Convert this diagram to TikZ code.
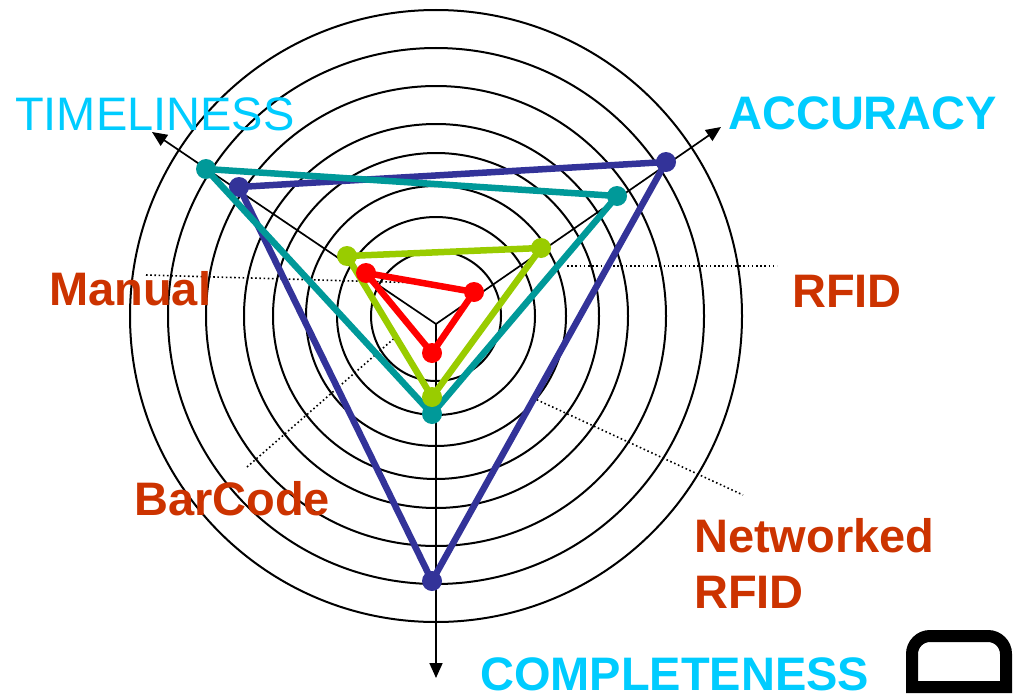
\documentclass[tikz,border=0pt]{standalone}
\usepackage{fontspec}
\setmainfont{Liberation Sans}
\usetikzlibrary{arrows.meta}
\definecolor{axiscyan}{HTML}{00CCFF}
\definecolor{techred}{HTML}{CC3300}
\definecolor{netblue}{HTML}{333399}
\definecolor{rfidteal}{HTML}{009999}
\definecolor{barcodegreen}{HTML}{99CC00}
\definecolor{manualred}{HTML}{FF0000}
\tikzset{
  ring/.style={draw=black, line width=2pt},
  axisline/.style={draw=black, line width=1.7pt, -{Triangle[length=15pt,width=13pt]}},
  leader/.style={draw=black, line width=1.6pt, dash pattern=on 1.6pt off 2.6pt},
  series/.style={line width=6.5pt, line join=round, line cap=round},
  dot/.style={circle, fill=#1, inner sep=0pt, minimum size=20pt},
  axislabel/.style={text=axiscyan, anchor=base west, inner sep=0pt, font=\fontsize{47}{50}\selectfont},
  techlabel/.style={text=techred, anchor=base west, inner sep=0pt, align=left, font=\fontsize{47}{56}\selectfont\bfseries},
}
\begin{document}
\begin{tikzpicture}[x=1pt, y=-1pt]
\useasboundingbox (0,0) rectangle (1014,693);
\fill[white] (0,0) rectangle (1014,693);

% concentric rings
\coordinate (C) at (436,316);
\foreach \r in {65,99,130,163,192,230,268,306}
  \draw[ring] (C) circle[radius=\r];

% axes
\coordinate (J) at (436,324);
\coordinate (tipT) at (152,132);
\coordinate (tipA) at (721,127);
\coordinate (tipC) at (436,678);
\draw[axisline] (J) -- (tipT);
\draw[axisline] (J) -- (tipA);
\draw[axisline] (J) -- (tipC);

% leader lines for the technology labels
\coordinate (mA) at (146,275);  \coordinate (mB) at (424,283);
\coordinate (rA) at (567,266);  \coordinate (rB) at (777,266);
\coordinate (nA) at (533,398);  \coordinate (nB) at (743,495);
\coordinate (bA) at (247,467);  \coordinate (bB) at (398,335);
\draw[leader] (mA) -- (mB);
\draw[leader] (rA) -- (rB);
\draw[leader] (nA) -- (nB);
\draw[leader] (bA) -- (bB);

% data points: timeliness / accuracy / completeness
\coordinate (nT) at (239,187); \coordinate (nR) at (666,162); \coordinate (nC) at (432,581);
\coordinate (fT) at (206,169); \coordinate (fR) at (617,196); \coordinate (fC) at (432,414);
\coordinate (gT) at (347,256); \coordinate (gR) at (541,248); \coordinate (gC) at (432,397);
\coordinate (mT) at (366,273); \coordinate (mR) at (474,292); \coordinate (mC) at (432,353);

% networked RFID
\draw[series, netblue] (nT) -- (nR) -- (nC) -- cycle;
\foreach \p in {nT,nR,nC} \node[dot=netblue] (d\p) at (\p) {};
% RFID
\draw[series, rfidteal] (fT) -- (fR) -- (fC) -- cycle;
\foreach \p in {fT,fR,fC} \node[dot=rfidteal] (d\p) at (\p) {};
% bar code
\draw[series, barcodegreen] (gT) -- (gR) -- (gC) -- cycle;
\foreach \p in {gT,gR,gC} \node[dot=barcodegreen] (d\p) at (\p) {};
% manual
\draw[series, manualred] (mT) -- (mR) -- (mC) -- cycle;
\foreach \p in {mT,mR,mC} \node[dot=manualred] (d\p) at (\p) {};

% axis labels
\node[axislabel] (labT) at (15,130) {TIMELINESS};
\node[axislabel, font=\fontsize{47}{50}\selectfont\bfseries] (labA) at (728,129) {ACCURACY};
\node[axislabel, font=\fontsize{47}{50}\selectfont\bfseries] (labC) at (480,690) {COMPLETENESS};

% technology labels
\node[techlabel] (labM) at (49,305) {Manual};
\node[techlabel] (labR) at (792,307) {RFID};
\node[techlabel] (labB) at (134,515) {BarCode};
\node[techlabel] (labN) at (694,608) {Networked\\RFID};

% corner mark
\draw[line width=12pt] (912,687) -- (912,654)
  arc[start angle=180, end angle=270, radius=18] -- (988,636)
  arc[start angle=270, end angle=360, radius=18] -- (1006,687) -- cycle;
\end{tikzpicture}
\end{document}
